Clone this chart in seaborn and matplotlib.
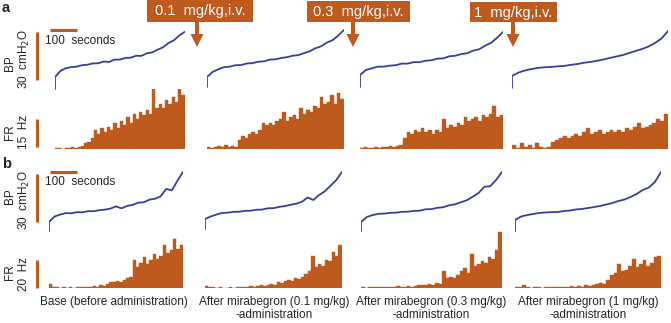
import numpy as np
import matplotlib
matplotlib.use("Agg")
import matplotlib.pyplot as plt
import seaborn as sns
from matplotlib.patches import Rectangle, FancyArrow

sns.set_style("white")
plt.rcParams["font.family"] = ["Liberation Sans", "DejaVu Sans"]

ORANGE = "#BF5A1F"
BLUE = "#3A3F9E"

# recording length of each trace (s)
dur_a = [480, 507, 530, 578]
dur_b = [496, 507, 522, 541]

# bladder pressure, cmH2O (first value = trace start before the step)
bp_a1 = [0.6, 8.1, 11.9, 13.6, 14.3, 14.6, 15.5, 15.8, 16.6, 16.7, 17.8, 17.5, 19.0,
         19.0, 20.0, 20.2, 21.4, 21.3, 22.9, 23.5, 25.2, 26.7, 29.3, 31.0, 34.0, 36.3]
bp_a2 = [1.9, 8.1, 11.3, 13.0, 14.3, 14.6, 15.5, 15.6, 16.6, 16.8, 17.7, 17.9, 19.0,
         19.2, 20.0, 20.5, 21.4, 21.8, 23.0, 24.2, 26.1, 27.3, 29.6, 31.1, 34.0, 37.5]
bp_a3 = [1.9, 9.4, 12.5, 13.6, 14.6, 14.6, 15.2, 15.5, 16.5, 16.5, 17.4, 17.4, 18.3,
         18.6, 19.6, 19.8, 21.1, 21.4, 22.5, 23.0, 24.6, 25.5, 27.7, 29.5, 32.7, 36.3]
bp_a4 = [1.3, 8.8, 10.9, 12.2, 13.1, 13.8, 14.2, 14.4, 14.8, 15.0, 15.7, 16.2, 17.0,
         17.5, 18.2, 19.0, 20.0, 20.9, 21.8, 23.1, 24.4, 25.6, 27.2, 29.4, 32.2, 36.9]
bp_b1 = [0.6, 6.3, 9.7, 10.9, 11.8, 11.7, 12.4, 12.3, 13.0, 13.0, 13.6, 14.0, 14.6,
         16.0, 14.8, 16.3, 17.0, 18.3, 18.6, 20.2, 20.8, 22.2, 26.9, 26.0, 31.9, 37.5]
bp_b2 = [1.9, 8.1, 9.7, 10.9, 11.9, 12.1, 12.6, 12.7, 13.2, 13.3, 13.9, 14.0, 14.8,
         14.9, 15.7, 16.2, 17.0, 17.7, 18.9, 21.6, 20.0, 23.1, 25.4, 28.9, 32.4, 37.5]
bp_b3 = [0.6, 6.3, 9.4, 10.6, 11.4, 11.5, 12.0, 12.1, 12.6, 12.7, 13.2, 13.3, 14.2,
         14.3, 15.1, 15.5, 16.7, 17.3, 18.6, 19.8, 22.0, 24.3, 28.3, 28.6, 32.5, 37.5]
bp_b4 = [0.6, 7.5, 9.7, 10.6, 11.3, 11.9, 12.2, 12.4, 12.5, 13.1, 13.4, 14.1, 14.4,
         15.0, 15.6, 16.3, 17.2, 18.1, 19.4, 20.3, 21.9, 23.8, 26.3, 27.8, 31.3, 37.5]

# firing rate per time bin, Hz
fr_a1 = [0.5, 0.5, 0, 0.5, 0.5, 1, 0.5, 1, 1.5, 3, 4, 6, 10, 8, 11, 9, 12, 10, 14, 11,
         15, 13, 17, 14, 19, 16, 20, 18, 21, 19, 32, 22, 24, 22, 26, 24, 28, 25, 32, 29]
fr_a2 = [1, 0.5, 1, 1.5, 1, 2, 1, 1.5, 1, 5, 7, 6, 8, 9, 8, 10, 14, 13, 14, 13,
         15, 16, 20, 15, 17, 18, 16, 22, 19, 21, 20, 23, 22, 28, 24, 25, 29, 24, 30, 27]
fr_a3 = [0.5, 1, 0.5, 0.5, 1, 0.5, 1, 1, 1.5, 1, 1.5, 2, 6, 9, 8, 10, 9, 11, 9, 10,
         8, 10, 9, 16, 11, 13, 12, 14, 13, 17, 15, 16, 17, 15, 18, 17, 19, 23, 17, 18]
fr_a4 = [2, 0.5, 3, 1, 2, 0.5, 3, 1, 0.5, 1, 4, 5, 6, 7, 6, 7, 8, 7, 9, 11,
         8, 9, 10, 8, 9, 10, 9, 10, 9, 11, 10, 12, 14, 11, 12, 13, 14, 16, 15, 19]
fr_b1 = [3, 0.5, 0.5, 0, 0.5, 0, 0.5, 0, 0.5, 0.5, 1, 1, 0.5, 1.5, 1, 2, 1.5, 3, 4, 4,
         5, 4.5, 6, 7, 8, 20, 15, 18, 22, 17, 20, 24, 21, 23, 31, 25, 27, 35, 28, 31]
fr_b2 = [1.5, 0.5, 0.5, 0, 0.5, 0, 0, 0.5, 0, 1, 0.5, 1, 0.5, 1.5, 1, 1.5, 2, 1.5, 2, 3,
         2.5, 4, 3.5, 5, 6, 5, 7, 6.5, 8, 10, 12, 23, 15, 17, 16, 20, 19, 26, 23, 31]
fr_b3 = [0.5, 0, 0.5, 1, 0.5, 0.5, 1, 0.5, 0.5, 1, 1.5, 1, 1, 1.5, 1, 1.5, 2, 2, 2.5, 3,
         2.5, 3.5, 3, 12, 7, 8, 7, 9, 12, 14, 11, 24, 16, 17, 19, 18, 22, 21, 27, 40]
fr_b4 = [0.5, 0.5, 2, 0.5, 0, 0.5, 0.5, 0, 0.5, 0.5, 0.5, 1, 1, 0.5, 1, 1.5, 1, 1.5, 1, 2,
         1.5, 2.5, 3, 3.5, 3, 6, 9, 11, 17, 12, 13, 16, 21, 15, 17, 20, 16, 18, 22, 23]

doses = ["0.1  mg/kg,i.v.", "0.3  mg/kg,i.v.", "1  mg/kg,i.v."]
conditions = ["Base (before administration)",
              "After mirabegron (0.1 mg/kg)\n-administration",
              "After mirabegron (0.3 mg/kg)\n-administration",
              "After mirabegron (1 mg/kg)\n-administration"]

W, H = 671, 323
fig = plt.figure(figsize=(W / 100, H / 100), dpi=100)


def px_axes(left, top, width, height):
    ax = fig.add_axes([left / W, 1 - (top + height) / H, width / W, height / H])
    ax.axis("off")
    return ax


PX_PER_S = 0.27      # 100 s = 27 px
CM_PER_PX = 0.625    # 30 cmH2O = 48 px

rows = [
    dict(lefts=[55, 207, 360, 512], durs=dur_a, bp=[bp_a1, bp_a2, bp_a3, bp_a4],
         fr=[fr_a1, fr_a2, fr_a3, fr_a4], bp_top=28, fr_top=89, hz_px=15 / 28,
         fr_bar=15, fr_lo=1.0, fr_lab="15  Hz"),
    dict(lefts=[49, 205, 361, 515], durs=dur_b, bp=[bp_b1, bp_b2, bp_b3, bp_b4],
         fr=[fr_b1, fr_b2, fr_b3, fr_b4], bp_top=170, fr_top=228, hz_px=20 / 28,
         fr_bar=20, fr_lo=0.3, fr_lab="20  Hz"),
]

for r in rows:
    for i in range(4):
        dur, left = r["durs"][i], r["lefts"][i]
        wpx = dur * PX_PER_S
        bp = r["bp"][i]
        fr = r["fr"][i]

        ax_bp = px_axes(left, r["bp_top"], wpx, 62)
        t = np.concatenate([[0.0], np.linspace(0, dur, len(bp) - 1)])
        sns.lineplot(x=t, y=bp, sort=False, estimator=None, color=BLUE,
                     linewidth=1.3, ax=ax_bp)
        ax_bp.set_xlim(0, dur)
        ax_bp.set_ylim(0, 62 * CM_PER_PX)
        ax_bp.axis("off")

        ax_fr = px_axes(left, r["fr_top"], wpx, 60)
        n = len(fr)
        tc = (np.arange(n) + 0.5) * dur / n
        sns.histplot(x=tc, weights=fr, bins=n, binrange=(0, dur), element="bars",
                     color=ORANGE, alpha=1, edgecolor=ORANGE, linewidth=0.3,
                     ax=ax_fr)
        ax_fr.set_xlim(0, dur)
        ax_fr.set_ylim(0, 60 * r["hz_px"])
        ax_fr.axis("off")

        if i == 0:
            xb = (37 - left) / PX_PER_S
            ax_bp.plot([xb, xb], [6.25, 36.25], color=ORANGE, lw=2.2,
                       clip_on=False, solid_capstyle="butt")
            t0 = (50 - left) / PX_PER_S
            ax_bp.plot([t0, t0 + 100], [37.5, 37.5], color=ORANGE, lw=2.2,
                       clip_on=False, solid_capstyle="butt")
            ax_fr.plot([xb, xb], [r["fr_lo"], r["fr_lo"] + r["fr_bar"]], color=ORANGE,
                       lw=2.2, clip_on=False, solid_capstyle="butt")

# overlay in pixel coordinates for labels and dose arrows
ov = fig.add_axes([0, 0, 1, 1])
ov.set_xlim(0, W)
ov.set_ylim(H, 0)
ov.axis("off")

fs = 8.5
for lab, y in [("a", 8), ("b", 164)]:
    ov.text(2, y, lab, fontsize=10.5, fontweight="bold", va="center", ha="left")
for r, yb, yc, yf, yh in [(rows[0], 63, 59, 132, 132), (rows[1], 196, 200, 272, 274)]:
    ov.text(10, yb, "BP", rotation=90, fontsize=fs, ha="center", va="center")
    ov.text(24, yc, "30  cmH$_2$O", rotation=90, fontsize=fs, ha="center", va="center")
    ov.text(10, yf, "FR", rotation=90, fontsize=fs, ha="center", va="center")
    ov.text(24, yh, r["fr_lab"], rotation=90, fontsize=fs, ha="center", va="center")
ov.text(45, 41, "100  seconds", fontsize=fs, ha="left", va="center")
ov.text(45, 182, "100  seconds", fontsize=fs, ha="left", va="center")

for xc, lab in zip([114, 274, 431, 588], conditions):
    ov.text(xc, 296, lab, fontsize=fs, ha="center", va="top", linespacing=1.15)

boxes = [(147, 0, 106, 22), (307, 1, 103, 21), (470, 2, 87, 20)]
arrow_x = [197, 353, 513]
for (bx, by, bw, bh), ax_, d in zip(boxes, arrow_x, doses):
    ov.add_patch(Rectangle((bx, by), bw, bh, color=ORANGE, lw=0))
    ov.add_patch(FancyArrow(ax_, by + bh - 1, 0, 47 - (by + bh - 1), width=4,
                            head_width=13, head_length=13,
                            length_includes_head=True, color=ORANGE, lw=0))
    ov.text(bx + bw / 2, by + bh / 2 + 0.5, d, color="white", fontsize=10.5,
            ha="center", va="center")

fig.savefig("out.png", dpi=100)
